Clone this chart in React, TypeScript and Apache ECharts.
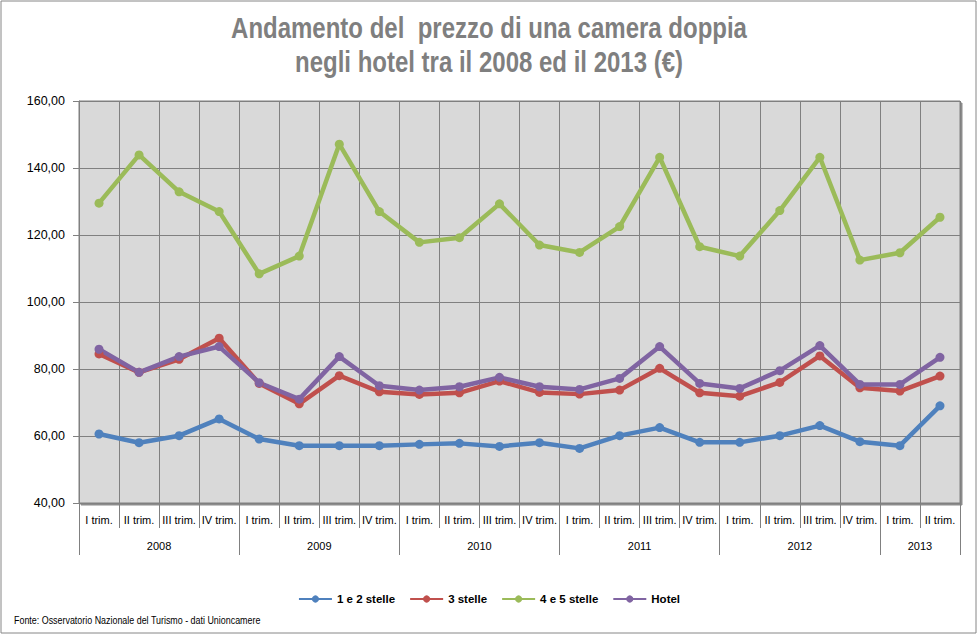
import React, { useEffect, useRef } from "react";
import * as echarts from "echarts";

const quarters = [
  "I trim.", "II trim.", "III trim.", "IV trim.",
  "I trim.", "II trim.", "III trim.", "IV trim.",
  "I trim.", "II trim.", "III trim.", "IV trim.",
  "I trim.", "II trim.", "III trim.", "IV trim.",
  "I trim.", "II trim.", "III trim.", "IV trim.",
  "I trim.", "II trim.",
];
const years = ["2008", "2009", "2010", "2011", "2012", "2013"];
const yearSpans = [4, 4, 4, 4, 4, 2];

const stelle12 = [60.6, 58.0, 60.1, 65.1, 59.1, 57.1, 57.1, 57.1, 57.5, 57.8, 56.9, 58.0, 56.3, 60.1, 62.5, 58.1, 58.1, 60.1, 63.1, 58.3, 57.1, 69.0];
const stelle3 = [84.5, 79.0, 82.9, 89.2, 75.7, 69.6, 78.0, 73.2, 72.4, 72.9, 76.4, 73.0, 72.5, 73.7, 80.2, 72.9, 71.9, 76.0, 83.9, 74.4, 73.4, 77.9];
const stelle45 = [129.5, 143.9, 132.9, 127.0, 108.4, 113.7, 147.1, 127.0, 117.8, 119.2, 129.3, 117.0, 114.8, 122.5, 143.2, 116.5, 113.7, 127.3, 143.2, 112.5, 114.7, 125.3];
const hotel = [85.9, 79.0, 83.7, 86.7, 75.9, 71.0, 83.7, 75.0, 73.7, 74.7, 77.5, 74.7, 73.9, 77.2, 86.7, 75.7, 74.2, 79.5, 87.0, 75.4, 75.4, 83.5];

const seriesNames = ["1 e 2 stelle", "3 stelle", "4 e 5 stelle", "Hotel"];
const seriesColors = ["#4F81BD", "#C0504D", "#9BBB59", "#8064A2"];

const titleLines = ["Andamento del  prezzo di una camera doppia", "negli hotel tra il 2008 ed il 2013 (€)"];
const sourceText = "Fonte: Osservatorio Nazionale del Turismo - dati Unioncamere";

const FONT = "'Liberation Sans', Arial, sans-serif";

export default function App() {
  const ref = useRef<HTMLDivElement>(null);
  useEffect(() => {
    document.body.style.margin = "0";
    if (!ref.current) return;
    const chart = echarts.init(ref.current, undefined, { renderer: "svg" });

    const yearBounds: number[] = [0];
    const yearCenters: number[] = [];
    let acc = 0;
    yearSpans.forEach((s) => {
      yearCenters.push(acc + s / 2);
      acc += s;
      yearBounds.push(acc);
    });

    const datasets = [stelle12, stelle3, stelle45, hotel];

    chart.setOption({
      animation: false,
      backgroundColor: "#ffffff",
      textStyle: { fontFamily: FONT },
      grid: {
        left: 79,
        right: 18,
        top: 101,
        bottom: 132,
        show: true,
        backgroundColor: "#D9D9D9",
        borderColor: "#808080",
        borderWidth: 1,
        shadowColor: "rgba(0,0,0,0.45)",
        shadowOffsetX: 2,
        shadowOffsetY: 2,
        shadowBlur: 1,
      },
      xAxis: [
        {
          type: "category",
          data: quarters,
          boundaryGap: true,
          position: "bottom",
          axisLine: { show: true, lineStyle: { color: "#808080", width: 1 } },
          axisTick: { show: true, length: 25, lineStyle: { color: "#808080" } },
          splitLine: { show: true, lineStyle: { color: "#808080", width: 1 } },
          axisLabel: {
            interval: 0,
            margin: 11,
            fontSize: 11,
            color: "#000000",
            fontFamily: FONT,
          },
        },
        {
          type: "value",
          min: 0,
          max: acc,
          position: "bottom",
          axisLine: { show: false },
          splitLine: { show: false },
          axisTick: {
            show: true,
            length: 52,
            customValues: yearBounds,
            lineStyle: { color: "#808080" },
          },
          axisLabel: {
            show: true,
            margin: 37,
            fontSize: 11,
            color: "#000000",
            fontFamily: FONT,
            customValues: yearCenters,
            formatter: (v: number) => {
              const idx = yearCenters.findIndex((c) => Math.abs(c - v) < 1e-6);
              return idx >= 0 ? years[idx] : "";
            },
          },
        },
      ],
      yAxis: {
        type: "value",
        min: 40,
        max: 160,
        interval: 20,
        axisLine: { show: true, lineStyle: { color: "#808080" } },
        axisTick: { show: true, length: 6, lineStyle: { color: "#808080" } },
        splitLine: { show: true, lineStyle: { color: "#808080", width: 1 } },
        axisLabel: {
          margin: 14,
          fontSize: 12.5,
          color: "#000000",
          fontFamily: FONT,
          formatter: (v: number) => v.toFixed(2).replace(".", ","),
        },
      },
      legend: {
        bottom: 25,
        left: "center",
        itemWidth: 33,
        itemHeight: 9,
        itemGap: 14,
        textStyle: { fontSize: 11.5, fontWeight: "bold", color: "#000000", fontFamily: FONT },
        data: seriesNames,
      },
      series: datasets.map((d, i) => ({
        name: seriesNames[i],
        type: "line",
        xAxisIndex: 0,
        yAxisIndex: 0,
        data: d,
        symbol: "circle",
        symbolSize: 9,
        lineStyle: { width: 4.5, color: seriesColors[i] },
        itemStyle: { color: seriesColors[i] },
        emphasis: { disabled: true },
      })),
      graphic: [
        {
          type: "rect",
          shape: { x: 1, y: 1, width: 975, height: 632 },
          style: { fill: "none", stroke: "#868686", lineWidth: 1 },
          silent: true,
        },
        {
          type: "text",
          x: 489,
          y: 28,
          scaleX: 0.8,
          style: {
            text: titleLines[0],
            fill: "#7F7F7F",
            font: "bold 30px " + FONT,
            textAlign: "center",
            textVerticalAlign: "middle",
          },
        },
        {
          type: "text",
          x: 489,
          y: 62,
          scaleX: 0.8,
          style: {
            text: titleLines[1],
            fill: "#7F7F7F",
            font: "bold 30px " + FONT,
            textAlign: "center",
            textVerticalAlign: "middle",
          },
        },
        {
          type: "text",
          x: 14,
          y: 620,
          scaleX: 0.81,
          style: {
            text: sourceText,
            fill: "#000000",
            font: "11px " + FONT,
            textAlign: "left",
            textVerticalAlign: "middle",
          },
        },
      ],
    });
    return () => chart.dispose();
  }, []);
  return <div ref={ref} style={{ width: 978, height: 635 }} />;
}
